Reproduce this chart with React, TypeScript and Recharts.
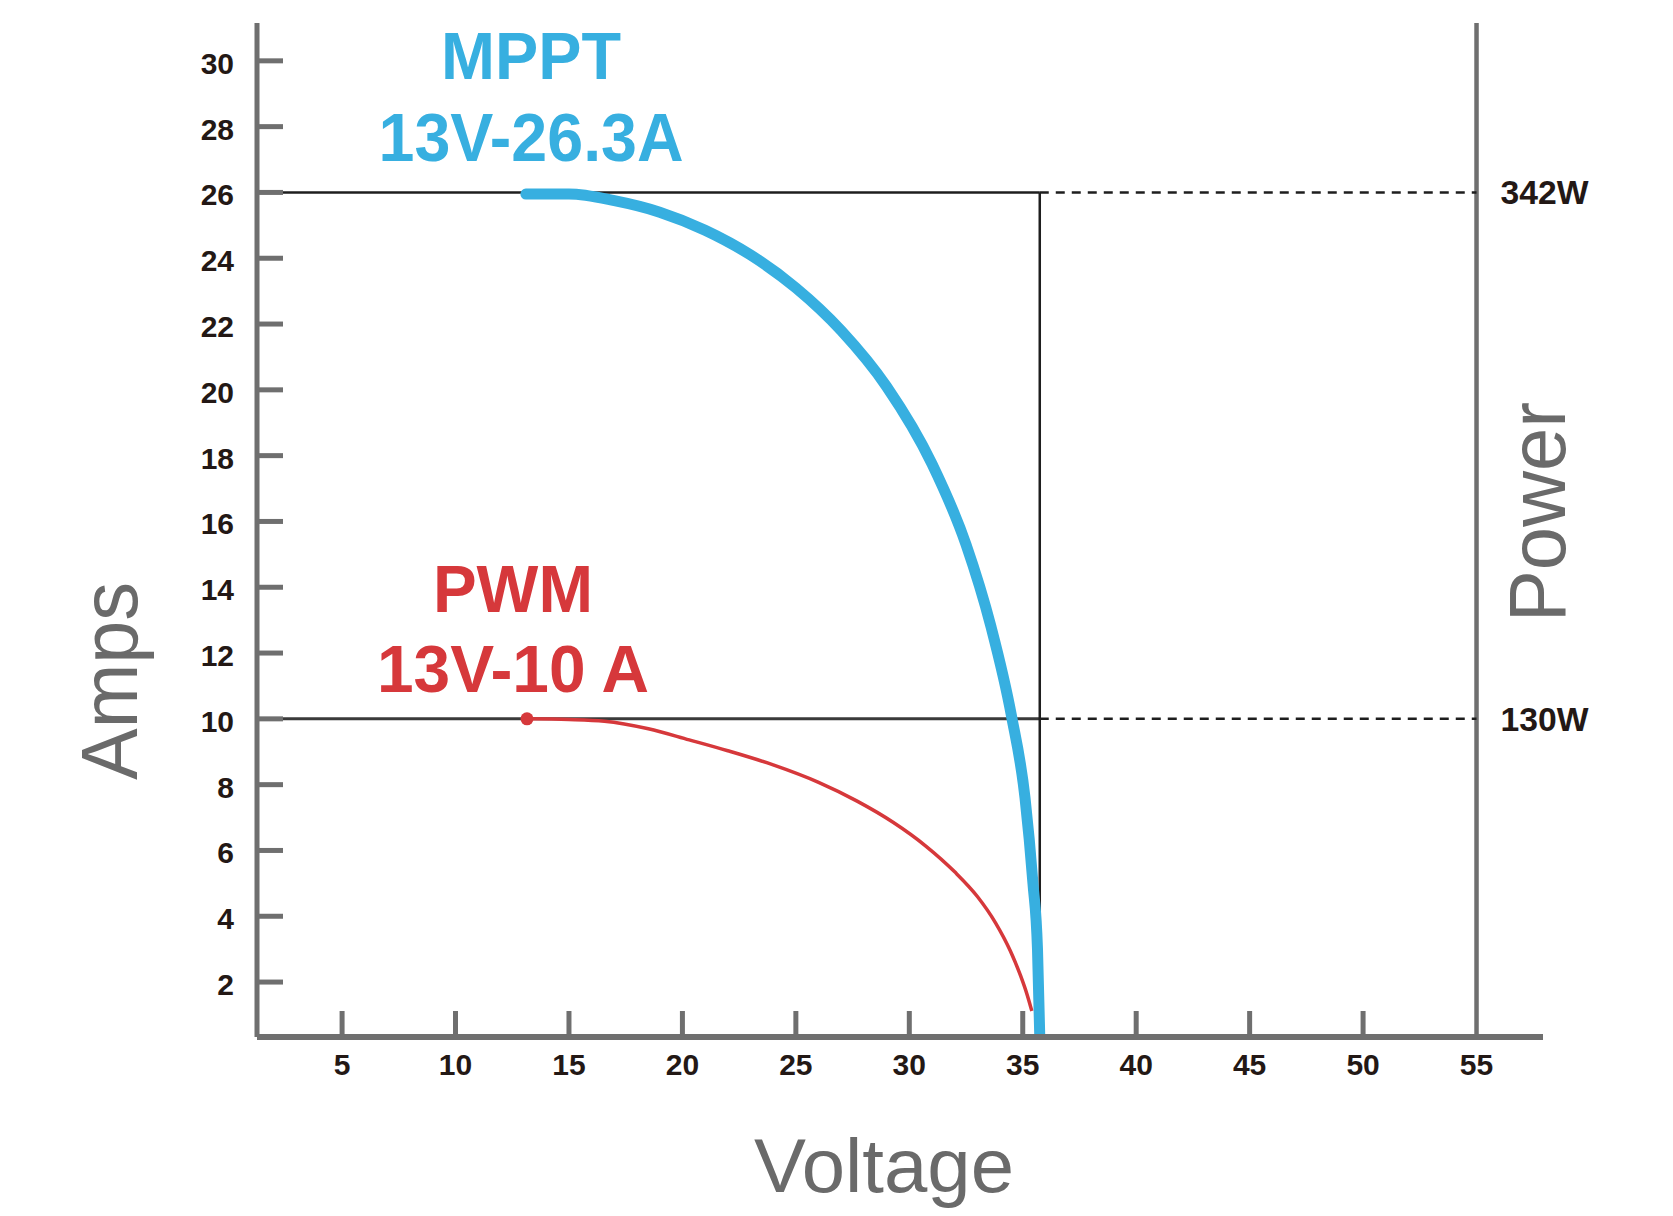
import React from "react";
import {
  LineChart,
  Line,
  XAxis,
  YAxis,
  ReferenceLine,
  ReferenceDot,
} from "recharts";

// axis ticks
const xTicks = [5, 10, 15, 20, 25, 30, 35, 40, 45, 50, 55];
const yTicks = [2, 4, 6, 8, 10, 12, 14, 16, 18, 20, 22, 24, 26, 28, 30];

// MPPT curve (volts / amps)
const mpptVolts = [13.1, 15.0, 17.0, 19.0, 21.0, 23.0, 25.0, 27.0, 29.0, 31.0, 32.5, 33.6, 34.5, 35.1, 35.45, 35.65, 35.75];
const mpptAmps = [25.95, 25.95, 25.75, 25.4, 24.85, 24.1, 23.1, 21.8, 20.1, 17.75, 15.3, 12.8, 10.1, 7.6, 5.0, 3.0, 0.35];

// PWM curve
const pwmVolts = [13.15, 15.0, 16.56, 18.5, 20.3, 22.0, 24.0, 26.0, 27.7, 29.3, 30.7, 32.0, 33.0, 33.8, 34.45, 34.9, 35.2, 35.4];
const pwmAmps = [10.0, 9.98, 9.93, 9.7, 9.36, 9.03, 8.6, 8.07, 7.5, 6.85, 6.15, 5.35, 4.6, 3.8, 2.95, 2.2, 1.6, 1.12];

// operating points
const mpptPoint = { volts: 13, amps: 26, power: "342W", name: "MPPT", label: "13V-26.3A" };
const pwmPoint = { volts: 13, amps: 10, power: "130W", name: "PWM", label: "13V-10 A" };
const openVolts = 35.75;
const powerAxisVolts = 55;

const mpptData = mpptVolts.map((v, i) => ({ volts: v, amps: mpptAmps[i] }));
const pwmData = pwmVolts.map((v, i) => ({ volts: v, amps: pwmAmps[i] }));

const X_MIN = 1.25;
const X_MAX = 57.93;
const Y_MIN = 0.33;
const Y_MAX = 31.15;

const FONT = "'Liberation Sans', Arial, Helvetica, sans-serif";
const AXIS = "#6f6f6f";
const TICK_TEXT = "#231815";
const TITLE = "#6a6a6a";
const BLUE = "#37afe0";
const RED = "#d6383b";

const XTick = ({ x, y, payload }: any) => (
  <g>
    {payload.value !== powerAxisVolts && (
      <line x1={x} x2={x} y1={y - 26} y2={y} stroke={AXIS} strokeWidth={5} />
    )}
    <text
      x={x}
      y={y + 38}
      textAnchor="middle"
      fontSize={30}
      fontWeight="bold"
      fontFamily={FONT}
      fill={TICK_TEXT}
    >
      {payload.value}
    </text>
  </g>
);

const YTick = ({ x, y, payload }: any) => (
  <g>
    <line x1={x} x2={x + 26} y1={y} y2={y} stroke={AXIS} strokeWidth={5} />
    <text
      x={x - 23}
      y={y + 13}
      textAnchor="end"
      fontSize={30}
      fontWeight="bold"
      fontFamily={FONT}
      fill={TICK_TEXT}
    >
      {payload.value}
    </text>
  </g>
);

const PowerLabel = ({ viewBox, value }: any) => (
  <text
    x={viewBox.x + viewBox.width + 24}
    y={viewBox.y + 12}
    fontSize={33}
    fontWeight="bold"
    fontFamily={FONT}
    fill={TICK_TEXT}
    textLength={88}
    lengthAdjust="spacingAndGlyphs"
  >
    {value}
  </text>
);

const Callout = ({ viewBox, lines, color }: any) => {
  const cx = viewBox.x + viewBox.width / 2;
  const cy = viewBox.y + viewBox.height / 2;
  return (
    <g>
      {lines.map((l: any) => (
        <text
          key={l.text}
          x={cx}
          y={cy + l.dy}
          textAnchor="middle"
          fontSize={l.size}
          fontWeight="bold"
          fontFamily={FONT}
          fill={color}
          textLength={l.width}
          lengthAdjust="spacingAndGlyphs"
        >
          {l.text}
        </text>
      ))}
    </g>
  );
};

const PwmDot = (props: any) =>
  props.index === 0 ? (
    <circle key="pwm-dot" cx={props.cx} cy={props.cy} r={6.5} fill={RED} />
  ) : (
    <g key={`pwm-${props.index}`} />
  );

export default function App() {
  return (
    <div style={{ position: "absolute", left: 0, top: 0, width: 1673, height: 1216, background: "#fff" }}>
      <LineChart
        width={1673}
        height={1216}
        margin={{ top: 23, right: 130, bottom: 0, left: 0 }}
      >
        <XAxis
          type="number"
          dataKey="volts"
          domain={[X_MIN, X_MAX]}
          ticks={xTicks}
          interval={0}
          height={179}
          tickSize={0}
          tickMargin={0}
          tickLine={false}
          axisLine={{ stroke: AXIS, strokeWidth: 6 }}
          tick={<XTick />}
          allowDataOverflow
          label={{
            content: ({ viewBox }: any) => (
              <text
                x={viewBox.x + 627}
                y={viewBox.y + 155}
                textAnchor="middle"
                fontSize={76}
                fontFamily={FONT}
                fill={TITLE}
                textLength={260}
                lengthAdjust="spacingAndGlyphs"
              >
                Voltage
              </text>
            ),
          }}
        />
        <YAxis
          type="number"
          dataKey="amps"
          domain={[Y_MIN, Y_MAX]}
          ticks={yTicks}
          interval={0}
          width={257}
          tickSize={0}
          tickMargin={0}
          tickLine={false}
          axisLine={{ stroke: AXIS, strokeWidth: 5 }}
          tick={<YTick />}
          allowDataOverflow
          label={{
            content: ({ viewBox }: any) => {
              const x = viewBox.x + 137;
              const y = viewBox.y + 658;
              return (
                <text
                  x={x}
                  y={y}
                  transform={`rotate(-90, ${x}, ${y})`}
                  textAnchor="middle"
                  fontSize={80}
                  fontFamily={FONT}
                  fill={TITLE}
                  textLength={198}
                  lengthAdjust="spacingAndGlyphs"
                >
                  Amps
                </text>
              );
            },
          }}
        />

        {/* power axis on the right */}
        <ReferenceLine
          x={powerAxisVolts}
          stroke={AXIS}
          strokeWidth={4.5}
          label={{
            content: ({ viewBox }: any) => {
              const x = viewBox.x + 88;
              const y = viewBox.y + 489;
              return (
                <text
                  x={x}
                  y={y}
                  transform={`rotate(-90, ${x}, ${y})`}
                  textAnchor="middle"
                  fontSize={80}
                  fontFamily={FONT}
                  fill={TITLE}
                  textLength={220}
                  lengthAdjust="spacingAndGlyphs"
                >
                  Power
                </text>
              );
            },
          }}
        />

        {/* operating point guides */}
        <ReferenceLine
          segment={[
            { x: X_MIN, y: mpptPoint.amps },
            { x: openVolts, y: mpptPoint.amps },
          ]}
          stroke="#1e1e1e"
          strokeWidth={2.5}
        />
        <ReferenceLine
          segment={[
            { x: X_MIN, y: pwmPoint.amps },
            { x: openVolts, y: pwmPoint.amps },
          ]}
          stroke="#3a3a3a"
          strokeWidth={3}
        />
        <ReferenceLine
          segment={[
            { x: openVolts, y: mpptPoint.amps },
            { x: openVolts, y: Y_MIN },
          ]}
          stroke="#1e1e1e"
          strokeWidth={2.5}
        />
        <ReferenceLine
          segment={[
            { x: openVolts, y: mpptPoint.amps },
            { x: powerAxisVolts, y: mpptPoint.amps },
          ]}
          stroke="#1e1e1e"
          strokeWidth={2.5}
          strokeDasharray="9 7"
          label={{ content: (p: any) => <PowerLabel {...p} value={mpptPoint.power} /> }}
        />
        <ReferenceLine
          segment={[
            { x: openVolts, y: pwmPoint.amps },
            { x: powerAxisVolts, y: pwmPoint.amps },
          ]}
          stroke="#1e1e1e"
          strokeWidth={2.5}
          strokeDasharray="9 7"
          label={{ content: (p: any) => <PowerLabel {...p} value={pwmPoint.power} /> }}
        />

        <Line
          data={pwmData}
          dataKey="amps"
          type="monotone"
          stroke={RED}
          strokeWidth={3.5}
          dot={<PwmDot />}
          activeDot={false}
          isAnimationActive={false}
        />
        <Line
          data={mpptData}
          dataKey="amps"
          type="monotone"
          stroke={BLUE}
          strokeWidth={11}
          strokeLinecap="round"
          dot={false}
          activeDot={false}
          isAnimationActive={false}
        />

        {/* callouts */}
        <ReferenceDot
          x={13.33}
          y={mpptPoint.amps}
          r={0}
          fill="none"
          stroke="none"
          label={{
            content: (p: any) => (
              <Callout
                {...p}
                color={BLUE}
                lines={[
                  { text: mpptPoint.name, dy: -113, size: 66, width: 180 },
                  { text: mpptPoint.label, dy: -31, size: 68, width: 305 },
                ]}
              />
            ),
          }}
        />
        <ReferenceDot
          x={12.53}
          y={pwmPoint.amps}
          r={0}
          fill="none"
          stroke="none"
          label={{
            content: (p: any) => (
              <Callout
                {...p}
                color={RED}
                lines={[
                  { text: pwmPoint.name, dy: -107, size: 66, width: 160 },
                  { text: pwmPoint.label, dy: -27, size: 66, width: 272 },
                ]}
              />
            ),
          }}
        />
      </LineChart>
    </div>
  );
}
